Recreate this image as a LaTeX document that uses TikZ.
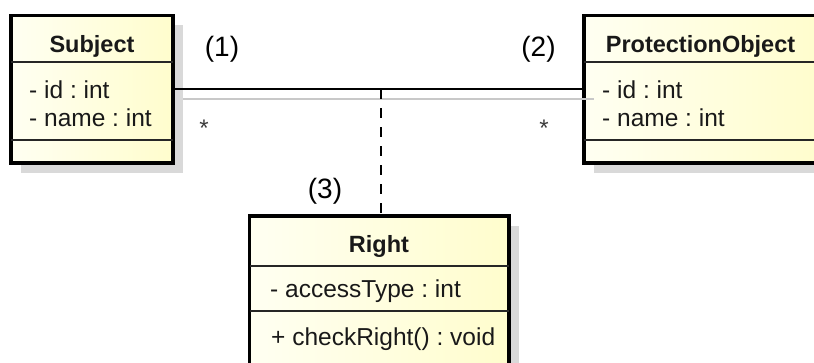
\documentclass[tikz,border=0pt]{standalone}
\usepackage{fontspec}
\setmainfont{Liberation Sans}
\usetikzlibrary{shadows}
\definecolor{boxlight}{RGB}{255,255,242}
\definecolor{boxyellow}{RGB}{255,253,205}
\definecolor{shadowgray}{RGB}{217,217,217}
\definecolor{linegray}{RGB}{200,200,200}
\definecolor{inkcolor}{RGB}{25,25,25}
\tikzset{
  classbox/.style={rectangle, draw=black, line width=3.5pt, left color=boxlight,
    right color=boxyellow, anchor=north west, inner sep=0pt, outer sep=0pt,
    general shadow={fill=shadowgray, shadow xshift=10pt, shadow yshift=-10pt}},
  separator/.style={draw=black!85, line width=1.5pt},
  classname/.style={font=\fontsize{23.5}{28}\selectfont\bfseries, text=inkcolor,
    anchor=base, inner sep=0pt},
  member/.style={font=\fontsize{24.5}{28}\selectfont\frenchspacing, text=inkcolor,
    anchor=base west, inner sep=0pt},
  rolelabel/.style={font=\fontsize{28}{32}\selectfont, text=black,
    anchor=base, inner sep=0pt},
  multiplicity/.style={font=\fontsize{24}{28}\selectfont, text=inkcolor!85,
    anchor=base, inner sep=0pt},
  association/.style={draw=black, line width=2pt},
  assocshadow/.style={draw=linegray, line width=1.5pt},
  dependency/.style={draw=black, line width=2pt, dash pattern=on 10pt off 9pt},
}
\begin{document}
\begin{tikzpicture}[x=1pt, y=-1pt]
\useasboundingbox (0,0) rectangle (814,363);
\clip (0,0) rectangle (814,363);

% class boxes
\node[classbox, minimum width=162pt, minimum height=147.5pt] (subject) at (11,15.5) {};
\node[classbox, minimum width=234pt, minimum height=147.5pt] (protection) at (584,15.5) {};
\node[classbox, minimum width=259.5pt, minimum height=170pt] (right) at (249.5,216) {};

% compartment separators
\draw[separator] (subject.west |- 0,62) -- (subject.east |- 0,62);
\draw[separator] (subject.west |- 0,140) -- (subject.east |- 0,140);
\draw[separator] (protection.west |- 0,62) -- (protection.east |- 0,62);
\draw[separator] (protection.west |- 0,140) -- (protection.east |- 0,140);
\draw[separator] (right.west |- 0,266) -- (right.east |- 0,266);
\draw[separator] (right.west |- 0,311) -- (right.east |- 0,311);

% class contents
\node[classname] (subjectname) at (92,52.7) {Subject};
\node[member] (subjectid) at (29,99) {- id : int};
\node[member] (subjectnm) at (29,127) {- name : int};

\node[classname] (protectionname) at (700.5,52.7) {ProtectionObject};
\node[member] (protectionid) at (602,99) {- id : int};
\node[member] (protectionnm) at (602,127) {- name : int};

\node[classname] (rightname) at (379,253) {Right};
\node[member] (rightattr) at (270,298) {- accessType : int};
\node[member] (rightop) at (271,345) {+ checkRight() : void};

% association and association class link
\draw[association] (subject.east) -- (protection.west);
\draw[assocshadow] ([shift={(10,10)}]subject.east) -- ([shift={(10,10)}]protection.west);
\coordinate (junction) at (381,89.25);
\draw[dependency] (junction) -- (junction |- right.north);

% role labels and multiplicities
\node[rolelabel] (role1) at (222,56.7) {(1)};
\node[rolelabel] (role2) at (538.5,56.7) {(2)};
\node[rolelabel] (role3) at (325,199) {(3)};
\node[multiplicity] (mult1) at (204,136.5) {*};
\node[multiplicity] (mult2) at (544,136.5) {*};
\end{tikzpicture}
\end{document}
